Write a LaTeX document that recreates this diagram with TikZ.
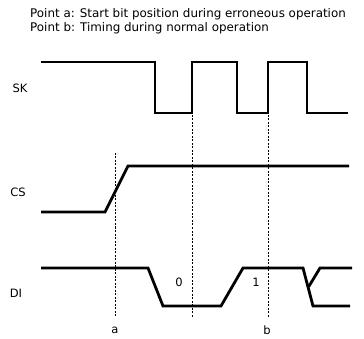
\documentclass[tikz,border=0pt]{standalone}
\usepackage{fontspec}
\setmainfont{DejaVu Sans}
\begin{document}
\begin{tikzpicture}[x=1pt,y=-1pt,
  sig/.style={line width=2.8pt,line join=miter},
  guide/.style={line width=0.6pt,dash pattern=on 2pt off 1.5pt},
  lbl/.style={font=\fontsize{11.5}{12}\selectfont,inner sep=0pt},
  hdr/.style={font=\fontsize{11.9}{13}\selectfont,inner sep=0pt,anchor=west}]
\useasboundingbox (0,0) rectangle (364,339);
% header
\node[hdr] (h1) at (30,14) {Point a: Start bit position during erroneous operation};
\node[hdr] (h2) at (30,28) {Point b: Timing during normal operation};
% labels
\node[lbl] (sk) at (20,88) {SK};
\node[lbl] (cs) at (18,192) {CS};
\node[lbl] (di) at (16,293) {DI};
% SK
\draw[sig] (41,62) -- (155,62) -- (155,113) -- (192,113) -- (192,62) -- (237,62) -- (237,113) -- (268,113) -- (268,62) -- (307,62) -- (307,113) -- (348,113);
% CS
\draw[sig] (41,212) -- (105,212) -- (128,166) -- (349,166);
% DI
\draw[sig] (41,268) -- (148,268) -- (163,306) -- (221,306) -- (243,268) -- (303,268) -- (313,306) -- (350,306);
\coordinate (x) at (308.5,287);
\draw[sig] (x) -- (320,268) -- (352,268);
% guides
\coordinate (a1) at (115,153);
\coordinate (a2) at (115,317);
\coordinate (m1) at (192,115);
\coordinate (m2) at (192,318);
\coordinate (b1) at (268,115);
\coordinate (b2) at (268,318);
\draw[guide] (a1) -- (a2);
\draw[guide] (m1) -- (m2);
\draw[guide] (b1) -- (b2);
\node[lbl] (la) at (115,330) {a};
\node[lbl] (lb) at (267,330) {b};
\node[lbl] (l0) at (179,282) {0};
\node[lbl] (l1) at (256,282) {1};
\end{tikzpicture}
\end{document}
